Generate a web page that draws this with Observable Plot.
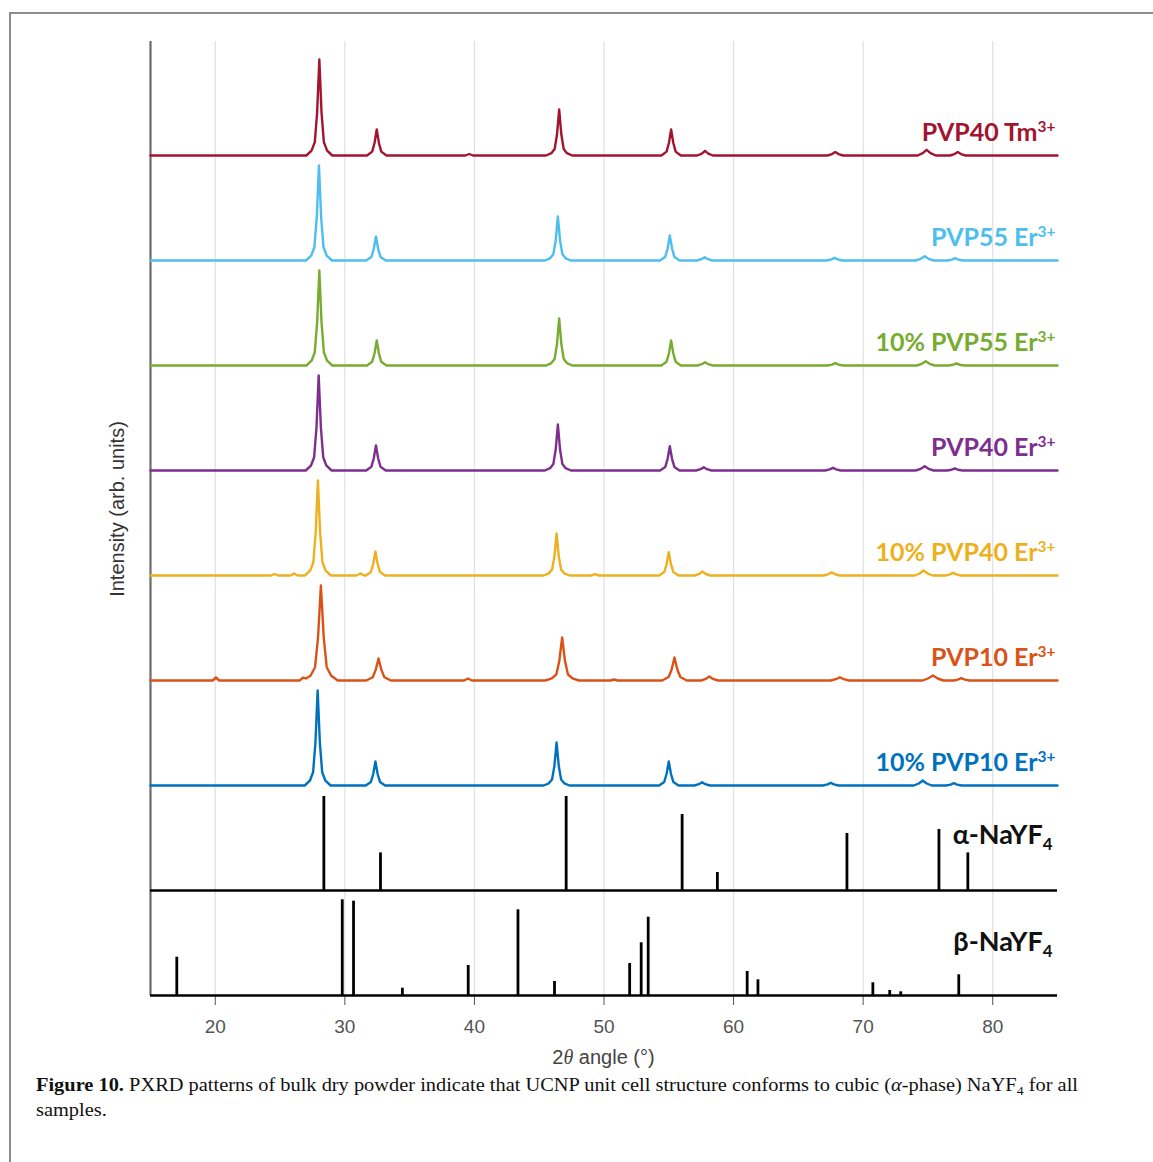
<!DOCTYPE html>
<html><head><meta charset="utf-8">
<script src="https://cdn.jsdelivr.net/npm/d3@7"></script>
<script src="https://cdn.jsdelivr.net/npm/@observablehq/plot@0.6"></script>
<style>
html,body{margin:0;padding:0;background:#fff;overflow:hidden;width:1153px;height:1162px;}
#frame{position:absolute;left:9px;top:12px;width:1300px;height:1300px;border-top:2px solid #8d8d8d;border-left:2px solid #8d8d8d;}
#chart{position:absolute;left:0;top:0;}
#caption{position:absolute;left:36px;top:1072px;font-family:'Liberation Serif','Times New Roman',serif;font-size:19px;line-height:25px;color:#111;white-space:nowrap;transform-origin:0 0;}
#caption sub{font-size:0.68em;vertical-align:-0.28em;line-height:0;}
</style></head><body>
<div id="frame"></div>
<div id="chart"></div>
<div id="caption"><span id="cap1"><b>Figure 10.</b> PXRD patterns of bulk dry powder indicate that UCNP unit cell structure conforms to cubic (<i>α</i>-phase) NaYF<sub>4</sub> for all</span><br><span>samples.</span></div>
<script>
// ---------- data ----------
const xTicks = [20, 30, 40, 50, 60, 70, 80];
const sampleLabels = ["PVP40 Tm^{3+}", "PVP55 Er^{3+}", "10% PVP55 Er^{3+}", "PVP40 Er^{3+}", "10% PVP40 Er^{3+}", "PVP10 Er^{3+}", "10% PVP10 Er^{3+}"];
const sampleColors = ["#A2142F", "#4DBEEE", "#77AC30", "#7E2F8E", "#EDB120", "#D95319", "#0072BD"];

const traceTm = [[15,0],[27.03,0],[27.43,4.8],[27.68,13.4],[27.86,43],[28.03,96],[28.2,43],[28.38,13.4],[28.63,4.8],[29.03,0],
 [31.71,0],[32.11,3.9],[32.29,12.5],[32.46,26],[32.63,12.5],[32.81,3.9],[33.21,0],
 [39.3,0],[39.6,1.5],[39.9,0],
 [45.54,0],[45.94,2.3],[46.19,6.4],[46.37,20.7],[46.54,46],[46.71,20.7],[46.89,6.4],[47.14,2.3],[47.54,0],
 [54.43,0],[54.83,3.9],[55.01,12.5],[55.18,26],[55.35,12.5],[55.53,3.9],[55.93,0],
 [57.2,0],[57.55,1.9],[57.8,4.7],[58.05,1.9],[58.4,0],
 [67.25,0],[67.6,1.4],[67.85,3.4],[68.1,1.4],[68.45,0],
 [74.2,0],[74.6,2.3],[74.9,5.7],[75.2,2.3],[75.6,0],
 [76.7,0],[77.05,1.4],[77.3,3.4],[77.55,1.4],[77.9,0],[85,0]];

const tracePVP55 = [[15,0],[27.0,0],[27.4,4.8],[27.65,13.3],[27.83,43],[28.0,95],[28.17,43],[28.35,13.3],[28.6,4.8],[29.0,0],
 [31.65,0],[32.05,3.6],[32.23,11.5],[32.4,24],[32.57,11.5],[32.75,3.6],[33.15,0],
 [45.44,0],[45.84,2.2],[46.09,6.2],[46.27,19.8],[46.44,44],[46.61,19.8],[46.79,6.2],[47.04,2.2],[47.44,0],
 [54.33,0],[54.73,3.8],[54.91,12],[55.08,25],[55.25,12],[55.43,3.8],[55.83,0],
 [57.17,0],[57.52,1.3],[57.77,3.3],[58.02,1.3],[58.37,0],
 [67.2,0],[67.55,1.1],[67.8,2.7],[68.05,1.1],[68.4,0],
 [74.05,0],[74.45,1.7],[74.75,4.3],[75.05,1.7],[75.45,0],
 [76.5,0],[76.85,0.9],[77.1,2.3],[77.35,0.9],[77.7,0],[85,0]];

const trace10PVP55 = [[15,0],[27.03,0],[27.43,4.8],[27.68,13.3],[27.86,43],[28.03,95],[28.2,43],[28.38,13.3],[28.63,4.8],[29.03,0],
 [31.71,0],[32.11,3.8],[32.29,12],[32.46,25],[32.63,12],[32.81,3.8],[33.21,0],
 [45.54,0],[45.94,2.4],[46.19,6.6],[46.37,21.2],[46.54,47],[46.71,21.2],[46.89,6.6],[47.14,2.4],[47.54,0],
 [54.43,0],[54.83,3.8],[55.01,12],[55.18,25],[55.35,12],[55.53,3.8],[55.93,0],
 [57.2,0],[57.55,1.3],[57.8,3.3],[58.05,1.3],[58.4,0],
 [67.25,0],[67.6,0.9],[67.85,2.3],[68.1,0.9],[68.45,0],
 [74.13,0],[74.53,1.7],[74.83,4.3],[75.13,1.7],[75.53,0],
 [76.6,0],[76.95,0.8],[77.2,2],[77.45,0.8],[77.8,0],[85,0]];

const tracePVP40 = [[15,0],[26.98,0],[27.38,4.8],[27.63,13.3],[27.81,43],[27.98,95],[28.15,43],[28.33,13.3],[28.58,4.8],[28.98,0],
 [31.65,0],[32.05,3.8],[32.23,12],[32.4,25],[32.57,12],[32.75,3.8],[33.15,0],
 [45.44,0],[45.84,2.3],[46.09,6.4],[46.27,20.7],[46.44,46],[46.61,20.7],[46.79,6.4],[47.04,2.3],[47.44,0],
 [54.33,0],[54.73,3.6],[54.91,11.7],[55.08,24.3],[55.25,11.7],[55.43,3.6],[55.83,0],
 [57.1,0],[57.45,1.3],[57.7,3.3],[57.95,1.3],[58.3,0],
 [67.07,0],[67.42,1.1],[67.67,2.7],[67.92,1.1],[68.27,0],
 [74.05,0],[74.45,1.7],[74.75,4.3],[75.05,1.7],[75.45,0],
 [76.47,0],[76.82,0.8],[77.07,2],[77.32,0.8],[77.67,0],[85,0]];

const trace10PVP40 = [[15,0],[24.3,0],[24.57,1.5],[24.85,0],[25.8,0],[26.08,2],[26.35,0],
 [26.92,0],[27.32,4.8],[27.57,13.3],[27.75,43],[27.92,95],[28.09,43],[28.27,13.3],[28.52,4.8],[28.92,0],
 [30.9,0],[31.2,2],[31.5,0],
 [31.61,0],[32.01,3.6],[32.19,11.5],[32.36,24],[32.53,11.5],[32.71,3.6],[33.11,0],
 [45.34,0],[45.74,2.1],[45.99,5.9],[46.17,18.9],[46.34,42],[46.51,18.9],[46.69,5.9],[46.94,2.1],[47.34,0],
 [49.0,0],[49.3,1.3],[49.6,0],
 [54.25,0],[54.65,3.5],[54.83,11.2],[55.0,23.3],[55.17,11.2],[55.35,3.5],[55.75,0],
 [57.0,0],[57.35,1.6],[57.6,4],[57.85,1.6],[58.2,0],
 [66.97,0],[67.32,1.3],[67.57,3.3],[67.82,1.3],[68.17,0],
 [73.97,0],[74.37,2],[74.67,5],[74.97,2],[75.37,0],
 [76.35,0],[76.7,1.1],[76.95,2.7],[77.2,1.1],[77.55,0],[85,0]];

const tracePVP10 = [[15,0],[19.8,0],[20.05,3],[20.3,0],
 [26.5,0],[26.8,3],[27.0,2],[27.35,4.8],[27.7,13.3],[27.93,43],[28.15,95],[28.37,43],[28.6,13.3],[28.95,4.8],[29.45,0],
 [31.65,0],[32.15,3.3],[32.38,10.6],[32.6,22],[32.82,10.6],[33.05,3.3],[33.55,0],
 [39.2,0],[39.5,2],[39.8,0],
 [45.47,0],[45.97,2.2],[46.32,6],[46.55,19.4],[46.77,43],[46.99,19.4],[47.22,6],[47.57,2.2],[48.07,0],
 [50.5,0],[50.77,1],[51.05,0],
 [54.49,0],[54.99,3.5],[55.22,11],[55.44,23],[55.66,11],[55.89,3.5],[56.39,0],
 [57.5,0],[57.85,1.6],[58.13,4],[58.4,1.6],[58.8,0],
 [67.5,0],[67.9,1.3],[68.2,3.3],[68.5,1.3],[68.9,0],
 [74.6,0],[75.0,2],[75.39,5],[75.75,2],[76.2,0],
 [77.0,0],[77.3,0.9],[77.57,2.3],[77.85,0.9],[78.2,0],[85,0]];

const trace10PVP10 = [[15,0],[26.9,0],[27.3,4.8],[27.55,13.3],[27.73,43],[27.9,95],[28.07,43],[28.25,13.3],[28.5,4.8],[28.9,0],
 [31.61,0],[32.01,3.6],[32.19,11.5],[32.36,24],[32.53,11.5],[32.71,3.6],[33.11,0],
 [45.34,0],[45.74,2.2],[45.99,6],[46.17,19.4],[46.34,43],[46.51,19.4],[46.69,6],[46.94,2.2],[47.34,0],
 [54.25,0],[54.65,3.6],[54.83,11.5],[55.0,24],[55.17,11.5],[55.35,3.6],[55.75,0],
 [56.97,0],[57.32,1.3],[57.57,3.3],[57.82,1.3],[58.17,0],
 [66.9,0],[67.25,1.1],[67.5,2.7],[67.75,1.1],[68.1,0],
 [73.9,0],[74.3,2],[74.6,5],[74.9,2],[75.3,0],
 [76.4,0],[76.75,0.9],[77.0,2.3],[77.25,0.9],[77.6,0],[85,0]];

const traces = [traceTm, tracePVP55, trace10PVP55, tracePVP40, trace10PVP40, tracePVP10, trace10PVP10];

// reference patterns (stick positions, 2θ, and relative intensity)
const alphaLabel = "α-NaYF_{4}";
const alphaPeaks   = [28.38, 32.75, 47.08, 56.03, 58.75, 68.75, 75.85, 78.08];
const alphaHeights = [94, 37.6, 94, 76, 18, 57, 61, 37.6];
const betaLabel = "β-NaYF_{4}";
const betaPeaks   = [17.03, 29.8, 30.67, 34.44, 39.52, 43.36, 46.18, 51.98, 52.87, 53.41, 61.05, 61.88, 70.75, 72.05, 72.9, 77.38];
const betaHeights = [38.3, 95.7, 94.3, 7.3, 30, 85.7, 14, 32, 52.7, 78.3, 24, 15.7, 12.7, 5, 3.7, 20.7];

// ---------- stacking ----------
const step = 105;             // vertical offset between stacked patterns
const betaBase = 0;
const alphaBase = step;
const traceBase = i => 2 * step + (traces.length - 1 - i) * step;

const traceRows = traces.flatMap((pts, i) => pts.map(([x, y]) => ({sample: i, x, y: traceBase(i) + y, color: sampleColors[i]})));
const labelRows = sampleLabels.map((label, i) => ({label, color: sampleColors[i], y: traceBase(i) + 15}));
const alphaRows = alphaPeaks.map((x, i) => ({x, h: alphaHeights[i]}));
const betaRows = betaPeaks.map((x, i) => ({x, h: betaHeights[i]}));

const plot = Plot.plot({
  width: 1153, height: 1075,
  marginLeft: 150, marginRight: 96, marginTop: 41, marginBottom: 80,
  x: {domain: [15, 85], ticks: xTicks, tickSize: 10, tickPadding: 14, label: null},
  y: {domain: [0, 954], axis: null},
  color: {type: "identity"},
  style: {fontFamily: "'Liberation Sans', Arial, sans-serif", fontSize: "19px", color: "#555", background: "transparent", overflow: "visible"},
  marks: [
    Plot.ruleX(xTicks, {stroke: "#e2e2e2", strokeWidth: 1.3}),
    Plot.ruleX([15], {y1: 0, y2: 954, stroke: "#6b6b6b", strokeWidth: 2.2}),
    Plot.line(traceRows, {x: "x", y: "y", z: "sample", stroke: "color", strokeWidth: 2.4, strokeLinejoin: "round"}),
    Plot.ruleX(alphaRows, {x: "x", y1: () => alphaBase, y2: d => alphaBase + d.h, stroke: "#000", strokeWidth: 2.8}),
    Plot.ruleX(betaRows, {x: "x", y1: () => betaBase, y2: d => betaBase + d.h, stroke: "#000", strokeWidth: 2.8}),
    Plot.ruleY([betaBase, alphaBase], {x1: 15, x2: 85, stroke: "#000", strokeWidth: 2.6}),
    Plot.text(labelRows, {x: () => 85, y: "y", text: "label", fill: "color", textAnchor: "end", lineAnchor: "bottom", dx: -2, fontSize: 25, fontWeight: "bold", fontFamily: "Lato, 'Open Sans', sans-serif"}),
    Plot.text([{label: alphaLabel, y: alphaBase + 47}, {label: betaLabel, y: betaBase + 45}], {x: () => 85, y: "y", text: "label", fill: "#111", textAnchor: "end", lineAnchor: "bottom", dx: -5, fontSize: 27, fontWeight: "bold", fontFamily: "Lato, 'Open Sans', sans-serif"})
  ]
});
document.getElementById("chart").appendChild(plot);

// superscripts / subscripts in labels
const svg = d3.select(plot);
svg.selectAll("text").each(function() {
  const s = this.textContent;
  if (!/[\^_]\{/.test(s)) return;
  const fs = parseFloat(getComputedStyle(this).fontSize);
  const el = d3.select(this);
  el.text(null);
  const re = /(\^|_)\{([^}]*)\}/g;
  let last = 0, m;
  while ((m = re.exec(s))) {
    if (m.index > last) el.append("tspan").text(s.slice(last, m.index));
    const sup = m[1] === "^";
    el.append("tspan").attr("font-size", fs * 0.62).attr("dy", sup ? -fs * 0.34 : fs * 0.24).text(m[2]);
    last = re.lastIndex;
  }
  if (last < s.length) el.append("tspan").text(s.slice(last));
});

// axis titles
const xs = plot.scale("x");
const xl = svg.append("text").attr("x", xs.apply(50)).attr("y", 1064).attr("text-anchor", "middle")
  .attr("fill", "#444").attr("font-size", 20).attr("font-family", "'Liberation Sans', Arial, sans-serif");
xl.append("tspan").text("2");
xl.append("tspan").attr("font-style", "italic").attr("font-family", "'Liberation Serif', serif").text("θ");
xl.append("tspan").text(" angle (°)");
svg.append("text").attr("transform", "translate(124,509) rotate(-90)").attr("text-anchor", "middle")
  .attr("fill", "#333").attr("font-size", 20).attr("font-family", "'Liberation Sans', Arial, sans-serif")
  .text("Intensity (arb. units)");

// fit caption line to the figure width
const cap = document.getElementById("caption");
const w = document.getElementById("cap1").getBoundingClientRect().width;
cap.style.transform = `scaleX(${1042 / w})`;
</script>
</body></html>
